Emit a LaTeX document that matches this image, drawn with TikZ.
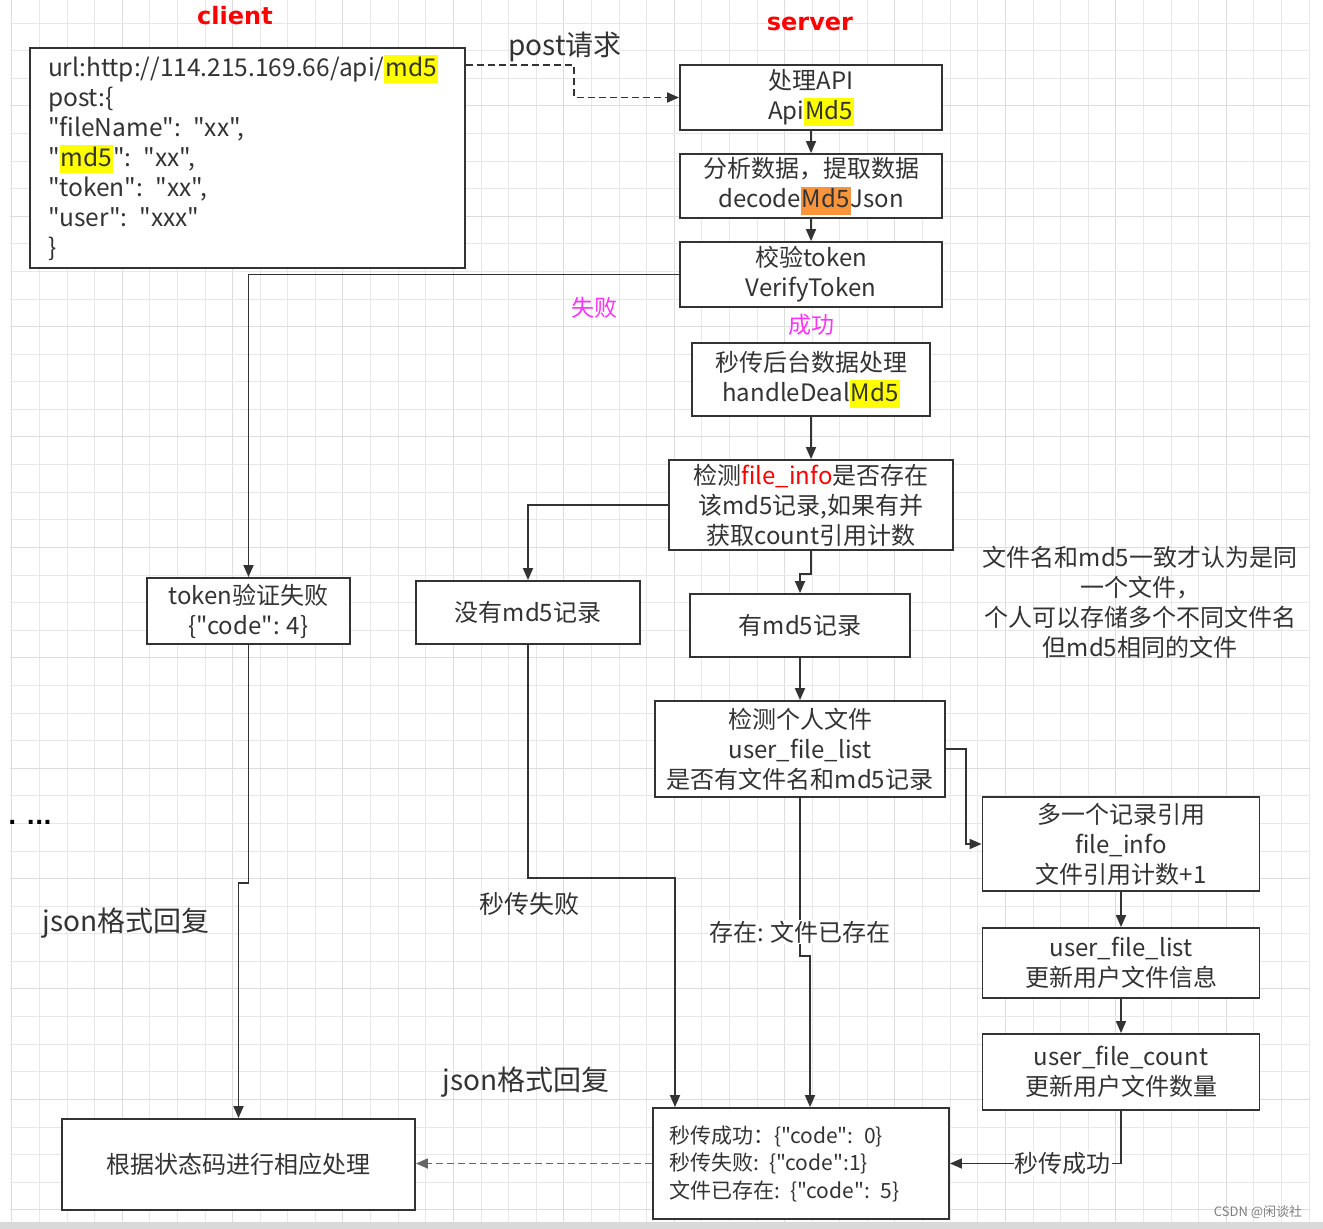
\documentclass[tikz,border=0pt]{standalone}
\usepackage{fontspec}
\setmainfont{Noto Sans CJK SC}[Ligatures=TeXOff]
\newfontfamily\latinbold{DejaVu Sans}
\usetikzlibrary{arrows.meta,calc}
\definecolor{ink}{HTML}{333333}
\definecolor{gridc}{HTML}{E8E8E8}
\definecolor{gridm}{HTML}{DCDCDC}
\definecolor{hlyellow}{HTML}{FFFF00}
\definecolor{hlorange}{HTML}{F7943C}
\definecolor{mag}{HTML}{FF33FF}
\newcommand\hlbox[2]{{\setlength{\fboxsep}{1pt}\colorbox{#1}{\vrule height 20pt depth 6pt width 0pt #2}}}
\begin{document}
\begin{tikzpicture}[x=1pt,y=-1pt,
  box/.style={draw=ink, line width=1.9pt, fill=white, inner sep=0pt, align=center, text=ink, font=\fontsize{24}{30}\selectfont},
  conn/.style={draw=ink, line width=1.8pt},
  arr/.style={conn, -{Triangle[length=12pt,width=10pt]}},
  darr/.style={arr, dash pattern=on 7pt off 4pt},
  lbl/.style={fill=white, inner sep=1pt, text=ink, font=\fontsize{24}{28}\selectfont},
  free/.style={inner sep=0pt, text=ink},
]
\useasboundingbox (0,0) rectangle (1323,1229);
\fill[white] (0,0) rectangle (1323,1229);
% grid
\foreach \i in {0,...,47} {
  \pgfmathtruncatemacro\m{mod(\i,4)}
  \ifnum\m=0 \draw[gridm, line width=1pt] ({11.7+27.6*\i},0) -- ({11.7+27.6*\i},1222);
  \else \draw[gridc, line width=0.8pt] ({11.7+27.6*\i},0) -- ({11.7+27.6*\i},1222); \fi
}
\foreach \k in {0,...,43} {
  \pgfmathtruncatemacro\m{mod(\k,4)}
  \ifnum\m=3 \draw[gridm, line width=1pt] (10,{22.9+27.6*\k}) -- (1310,{22.9+27.6*\k});
  \else \draw[gridc, line width=0.8pt] (10,{22.9+27.6*\k}) -- (1310,{22.9+27.6*\k}); \fi
}
\fill[gray!30] (0,1222) rectangle (1323,1229);

% titles
\node[free, text=red, font=\latinbold\bfseries\fontsize{24}{28}\selectfont] (clientlbl) at (235,16) {client};
\node[free, text=red, font=\latinbold\bfseries\fontsize{24}{28}\selectfont] (serverlbl) at (810,24) {server};

% boxes
\node[box, minimum width=435pt, minimum height=220pt, text width=399pt, align=left, font=\fontsize{24.5}{30}\selectfont] (client) at (247.5,158)
  {url:http://114.215.169.66/api/\hlbox{hlyellow}{md5}\\
   post:\{\\
   "fileName": "xx",\\
   "\hlbox{hlyellow}{md5}": "xx",\\
   "token": "xx",\\
   "user": "xxx"\\
   \}};
\node[box, minimum width=262pt, minimum height=65pt] (api) at (811,97.5) {处理API\\Api\hlbox{hlyellow}{Md5}};
\node[box, minimum width=262pt, minimum height=64pt] (parse) at (811,186) {分析数据，提取数据\\decode\hlbox{hlorange}{Md5}Json};
\node[box, minimum width=262pt, minimum height=65pt] (verify) at (811,274.5) {校验token\\VerifyToken};
\node[box, minimum width=238pt, minimum height=73pt] (handle) at (811,379.5) {秒传后台数据处理\\handleDeal\hlbox{hlyellow}{Md5}};
\node[box, minimum width=284pt, minimum height=90pt] (check) at (811,505) {检测\textcolor{red}{file\_info}是否存在\\该md5记录,如果有并\\获取count引用计数};
\node[box, minimum width=203pt, minimum height=66pt] (tokfail) at (248.5,611) {token验证失败\\\{"code": 4\}};
\node[box, minimum width=224pt, minimum height=63pt] (nomd5) at (528,612.5) {没有md5记录};
\node[box, minimum width=220pt, minimum height=63pt] (hasmd5) at (800,625.5) {有md5记录};
\node[box, minimum width=290pt, minimum height=96pt] (userchk) at (800,749) {检测个人文件\\user\_file\_list\\是否有文件名和md5记录};
\node[box, minimum width=277pt, minimum height=94pt] (ref) at (1121,844) {多一个记录引用\\file\_info\\文件引用计数+1};
\node[box, minimum width=277pt, minimum height=70pt] (ufl) at (1121,963) {user\_file\_list\\更新用户文件信息};
\node[box, minimum width=277pt, minimum height=76pt] (ufc) at (1121,1072) {user\_file\_count\\更新用户文件数量};
\node[box, minimum width=296pt, minimum height=111pt, text width=264pt, align=left, font=\fontsize{21}{27.5}\selectfont] (result) at (801,1163.5)
  {秒传成功：\{"code": 0\}\\秒传失败: \{"code":1\}\\文件已存在: \{"code": 5\}};
\node[box, minimum width=353pt, minimum height=91pt] (final) at (238.5,1164.5) {根据状态码进行相应处理};

% free texts
\node[free, font=\fontsize{28}{32}\selectfont] (postlbl) at (565,47) {post请求};
\node[free, text=mag, font=\fontsize{23}{26}\selectfont] (faillbl) at (594,308) {失败};
\node[free, text=mag, font=\fontsize{23}{26}\selectfont] (oklbl) at (811,325) {成功};
\node[free, align=center, font=\fontsize{24}{30}\selectfont] (note) at (1140,602)
  {文件名和md5一致才认为是同\\一个文件，\\个人可以存储多个不同文件名\\但md5相同的文件};
\node[free, font=\fontsize{25}{28}\selectfont] (miaofail) at (529,904) {秒传失败};
\node[free, font=\fontsize{28}{32}\selectfont] (json1) at (126,923) {json格式回复};
\node[free, font=\fontsize{28}{32}\selectfont] (json2) at (526,1082) {json格式回复};
\node[free, text=black, font=\latinbold\bfseries\fontsize{22}{24}\selectfont] (dots) at (30,822) {. ...};
\node[free, text=gray, font=\fontsize{13}{15}\selectfont] (wm) at (1258,1212) {CSDN @闲谈社};

% connectors
\draw[darr] ([yshift=-18pt]client.north east) -- ++(108,0) |- (api.west);
\draw[arr] (api) -- (parse);
\draw[arr] (parse) -- (verify);
\draw[arr] (verify.west) -| (tokfail.north);
\draw[arr] (handle) -- (check);
\draw[arr] (check.west) -| (nomd5.north);
\draw[arr] (check.south) -- ++(0,23) -| (hasmd5.north);
\draw[arr] (hasmd5) -- (userchk);
\draw[arr] (userchk.east) -- ++(20,0) |- (ref.west);
\draw[arr] (ref) -- (ufl);
\draw[arr] (ufl) -- (ufc);
\draw[arr] (ufc.south) |- node[lbl, pos=0.67] {秒传成功} (result.east);
\draw[arr] (userchk.south) -- node[lbl, pos=0.85] {存在: 文件已存在} ++(0,158) -| ([xshift=9pt]result.north);
\draw[arr] (nomd5.south) -- ++(0,233) -| ([xshift=-126pt]result.north);
\draw[arr] (tokfail.south) -- ++(0,238) -| (final.north);
\draw[darr, draw=ink!75] (result.west) -- (final.east |- result.west);
\end{tikzpicture}
\end{document}
